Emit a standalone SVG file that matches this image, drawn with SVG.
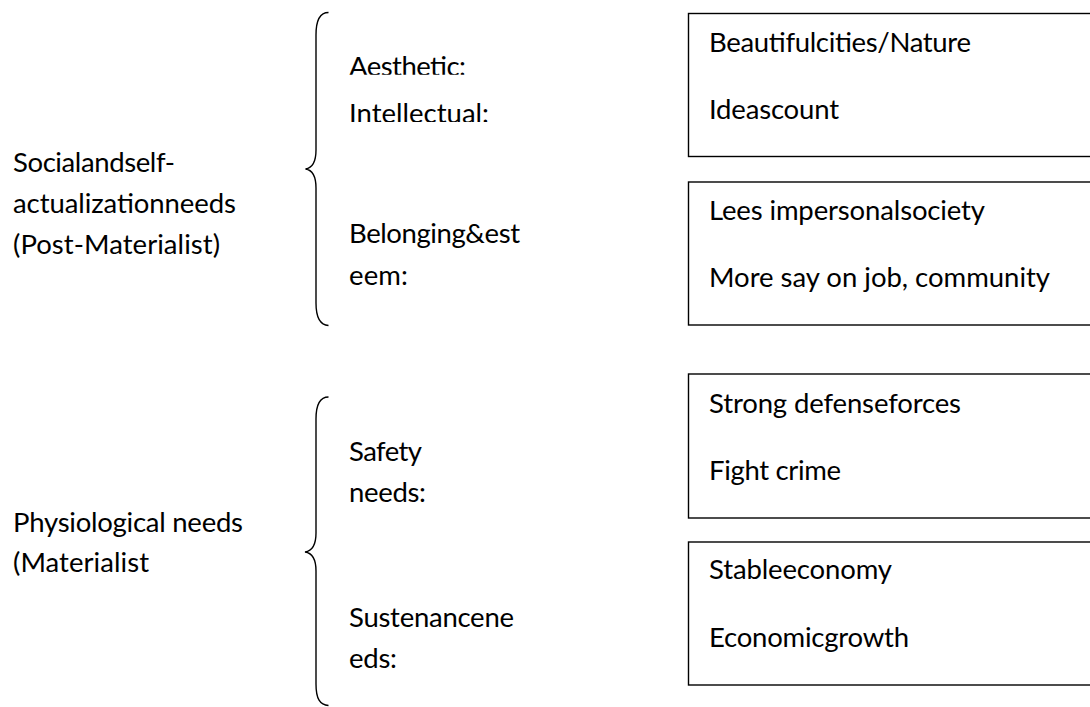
<svg xmlns="http://www.w3.org/2000/svg" width="1090" height="707" viewBox="0 0 1090 707">
<style>
text{font-family:Lato,"Open Sans","Liberation Sans",sans-serif;font-size:27.5px;fill:#000}
.box{fill:#fff;stroke:#000;stroke-width:1.4}
.brace{fill:none;stroke:#000;stroke-width:1.4}
</style>
<defs>
<clipPath id="clipA"><rect x="340" y="40" width="200" height="34.8"/></clipPath>
<clipPath id="clipI"><rect x="340" y="90" width="200" height="32"/></clipPath>
</defs>
<rect width="1090" height="707" fill="#fff"/>
<g id="connectors">
<path class="brace" d="M328.5 12.5 C320 12.5 316 20 316 35 L316 150 C316 162 312 168 305.5 169 C312 170 316 176 316 188 L316 303 C316 318 320 325 328.5 325.5"/>
<path class="brace" d="M328.5 397 C320 397 316 404 316 419 L316 533 C316 545 312 551 305 552 C312 553 316 559 316 571 L316 684 C316 699 320 705 328.5 705.5"/>
</g>
<g id="post-materialist">
<text x="13" y="172" textLength="162">Socialandself-</text>
<text x="13" y="213" textLength="223">actualizationneeds</text>
<text x="13" y="254" textLength="207">(Post-Materialist)</text>
</g>
<g id="materialist">
<text x="13" y="532" textLength="230">Physiological needs</text>
<text x="13" y="572" textLength="136">(Materialist</text>
</g>
<g id="aesthetic-intellectual">
<text x="349" y="76" textLength="117" clip-path="url(#clipA)">Aesthetic:</text>
<text x="349" y="123" textLength="140" clip-path="url(#clipI)">Intellectual:</text>
</g>
<g id="belonging">
<text x="349" y="243" textLength="171">Belonging&amp;est</text>
<text x="349" y="285" textLength="59">eem:</text>
</g>
<g id="safety">
<text x="349" y="461" textLength="73">Safety</text>
<text x="349" y="502" textLength="77">needs:</text>
</g>
<g id="sustenance">
<text x="349" y="627" textLength="165">Sustenancene</text>
<text x="349" y="668" textLength="48">eds:</text>
</g>
<g id="box-aesthetic">
<rect class="box" x="688.5" y="13.5" width="410" height="143"/>
<text x="709" y="52" textLength="262">Beautifulcities/Nature</text>
<text x="709" y="119" textLength="130">Ideascount</text>
</g>
<g id="box-belonging">
<rect class="box" x="688.5" y="182" width="410" height="143"/>
<text x="709" y="220" textLength="276">Lees impersonalsociety</text>
<text x="709" y="287" textLength="341">More say on job, community</text>
</g>
<g id="box-safety">
<rect class="box" x="688.5" y="374" width="410" height="144"/>
<text x="709" y="413" textLength="252">Strong defenseforces</text>
<text x="709" y="480" textLength="132">Fight crime</text>
</g>
<g id="box-sustenance">
<rect class="box" x="688.5" y="542" width="410" height="143"/>
<text x="709" y="579" textLength="183">Stableeconomy</text>
<text x="709" y="647" textLength="200">Economicgrowth</text>
</g>
</svg>
